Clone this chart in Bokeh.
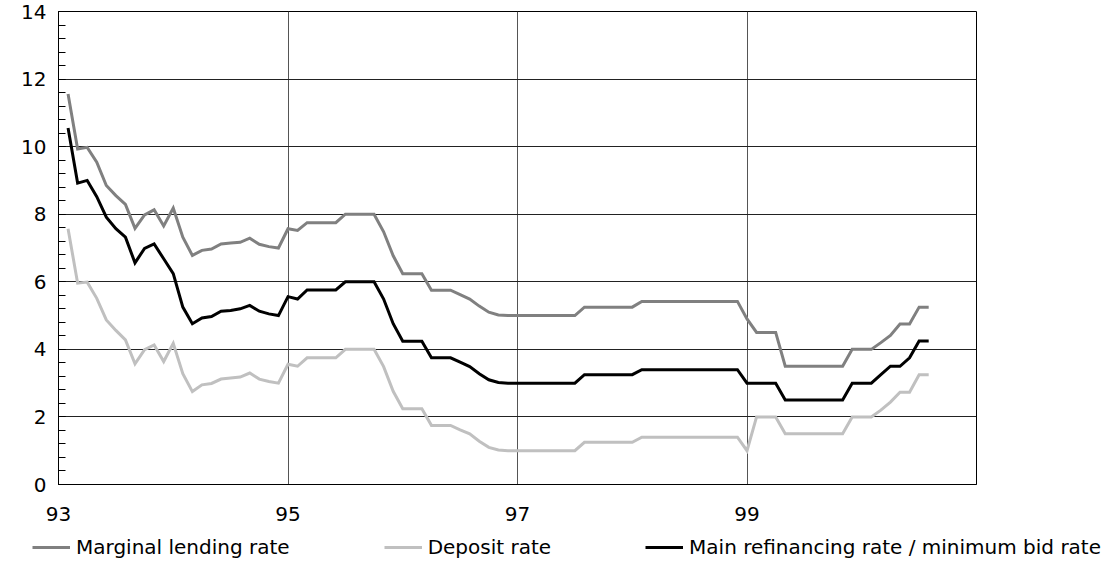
from bokeh.plotting import figure
from bokeh.layouts import column
from bokeh.models import (Range1d, FixedTicker, Legend, LegendItem,
                          ColumnDataSource)
from bokeh.embed import file_html
from bokeh.resources import INLINE

# ---- data (monthly, from Feb 1993; years shown as two digits) ----
start_year = 93
start_month = 2

marginal_rate = [11.56, 9.93, 9.98, 9.54, 8.85, 8.55, 8.29, 7.58, 7.98, 8.13, 7.65,
                 8.18, 7.32, 6.78, 6.93, 6.97, 7.12, 7.15, 7.17, 7.29, 7.11, 7.04,
                 7.00, 7.57, 7.52, 7.75, 7.75, 7.75, 7.75, 8.00, 8.00, 8.00, 8.00,
                 7.48, 6.77, 6.24, 6.24, 6.24, 5.75, 5.75, 5.75, 5.62, 5.49, 5.28,
                 5.10, 5.02, 5.00, 5.00, 5.00, 5.00, 5.00, 5.00, 5.00, 5.00,
                 5.25, 5.25, 5.25, 5.25, 5.25, 5.25,
                 5.42, 5.42, 5.42, 5.42, 5.42, 5.42, 5.42, 5.42, 5.42, 5.42, 5.42,
                 4.90, 4.50, 4.50, 4.50, 3.50, 3.50, 3.50, 3.50, 3.50, 3.50, 3.50,
                 4.00, 4.00, 4.00, 4.20, 4.41, 4.75, 4.75, 5.25, 5.25]

deposit_rate = [7.57, 5.96, 5.99, 5.51, 4.87, 4.56, 4.28, 3.57, 3.99, 4.13, 3.64,
                4.18, 3.28, 2.75, 2.95, 2.99, 3.12, 3.15, 3.18, 3.30, 3.12, 3.05,
                3.00, 3.56, 3.50, 3.75, 3.75, 3.75, 3.75, 4.00, 4.00, 4.00, 4.00,
                3.49, 2.76, 2.24, 2.24, 2.24, 1.75, 1.75, 1.75, 1.62, 1.50, 1.28,
                1.10, 1.02, 1.00, 1.00, 1.00, 1.00, 1.00, 1.00, 1.00, 1.00,
                1.25, 1.25, 1.25, 1.25, 1.25, 1.25,
                1.40, 1.40, 1.40, 1.40, 1.40, 1.40, 1.40, 1.40, 1.40, 1.40, 1.40,
                1.00, 2.00, 2.00, 2.00, 1.50, 1.50, 1.50, 1.50, 1.50, 1.50, 1.50,
                2.00, 2.00, 2.00, 2.20, 2.44, 2.73, 2.73, 3.25, 3.25]

main_rate = [10.55, 8.92, 9.00, 8.52, 7.91, 7.57, 7.32, 6.56, 6.99, 7.12, 6.68,
             6.24, 5.25, 4.76, 4.93, 4.97, 5.13, 5.15, 5.20, 5.30, 5.13, 5.05,
             5.00, 5.56, 5.49, 5.76, 5.76, 5.76, 5.76, 6.00, 6.00, 6.00, 6.00,
             5.49, 4.76, 4.24, 4.24, 4.24, 3.75, 3.75, 3.75, 3.62, 3.49, 3.28,
             3.10, 3.02, 3.00, 3.00, 3.00, 3.00, 3.00, 3.00, 3.00, 3.00,
             3.25, 3.25, 3.25, 3.25, 3.25, 3.25,
             3.40, 3.40, 3.40, 3.40, 3.40, 3.40, 3.40, 3.40, 3.40, 3.40, 3.40,
             3.00, 3.00, 3.00, 3.00, 2.50, 2.50, 2.50, 2.50, 2.50, 2.50, 2.50,
             3.00, 3.00, 3.00, 3.25, 3.50, 3.50, 3.75, 4.25, 4.25]

series_names = ["Marginal lending rate", "Deposit rate",
                "Main refinancing rate / minimum bid rate"]
series_cols = ["marginal", "deposit", "main"]
series_colors = ["#808080", "#c0c0c0", "#000000"]

x_ticks = [93, 95, 97, 99]
y_ticks = [0, 2, 4, 6, 8, 10, 12, 14]

# time positions (fractional years) of each monthly observation
dates = [start_year + (start_month - 1 + i) / 12 for i in range(len(main_rate))]

src = ColumnDataSource(dict(x=dates, marginal=marginal_rate,
                            deposit=deposit_rate, main=main_rate))

FONT = "DejaVu Sans"
FS = "20px"

p = figure(width=1117, height=532, output_backend="svg", toolbar_location=None,
           x_range=Range1d(93, 101), y_range=Range1d(0, 14),
           min_border_left=58, min_border_right=141, min_border_top=11,
           min_border_bottom=48)

p.background_fill_color = "white"
p.border_fill_color = "white"
p.outline_line_color = "#000000"
p.outline_line_width = 1

# x axis
p.xaxis.ticker = FixedTicker(ticks=x_ticks)
p.xaxis.major_tick_in = 0
p.xaxis.major_tick_out = 0
p.xaxis.minor_tick_line_color = None
p.xaxis.axis_line_color = "#000000"
p.xaxis.major_label_text_font = FONT
p.xaxis.major_label_text_font_size = FS
p.xaxis.major_label_text_color = "#000000"
p.xaxis.major_label_standoff = 22

# y axis
p.yaxis.ticker = FixedTicker(ticks=y_ticks,
                             minor_ticks=[i * 0.4 for i in range(36)])
p.yaxis.major_tick_in = 7
p.yaxis.major_tick_out = 0
p.yaxis.minor_tick_in = 7
p.yaxis.minor_tick_out = 0
p.yaxis.major_tick_line_color = "#000000"
p.yaxis.minor_tick_line_color = "#000000"
p.yaxis.axis_line_color = "#000000"
p.yaxis.major_label_text_font = FONT
p.yaxis.major_label_text_font_size = FS
p.yaxis.major_label_text_color = "#000000"
p.yaxis.major_label_standoff = 12

# grids
p.xgrid.ticker = FixedTicker(ticks=x_ticks)
p.xgrid.grid_line_color = "#555555"
p.xgrid.grid_line_width = 1
p.ygrid.ticker = FixedTicker(ticks=y_ticks)
p.ygrid.grid_line_color = "#222222"
p.ygrid.grid_line_width = 1

for col, color in zip(series_cols, series_colors):
    p.line("x", col, source=src, line_color=color, line_width=3,
           line_join="miter")

# ---- legend strip (separate figure below the chart) ----
lg = figure(width=1117, height=30, output_backend="svg", toolbar_location=None,
            x_range=Range1d(0, 1), y_range=Range1d(0, 1),
            x_axis_location=None, y_axis_location=None, min_border=0)
lg.frame_align = False
lg.outline_line_color = None
lg.xgrid.visible = False
lg.ygrid.visible = False
lg.background_fill_color = "white"
lg.border_fill_color = "white"

items = []
for col, color, name in zip(series_cols, series_colors, series_names):
    # same series, outside this strip's visible range: only the key shows
    r = lg.line("x", col, source=src, line_color=color, line_width=3)
    items.append(LegendItem(label=name, renderers=[r]))

leg = Legend(items=items, location=(32, 3), orientation="horizontal",
             padding=0, margin=0, spacing=94,
             glyph_width=38, glyph_height=20, label_height=20,
             label_standoff=6, label_text_font=FONT,
             label_text_font_size=FS, label_text_color="#000000",
             border_line_color=None, background_fill_alpha=0)
lg.add_layout(leg)

layout = column(p, lg, spacing=0)
open("out.html", "w").write(file_html(layout, INLINE))
